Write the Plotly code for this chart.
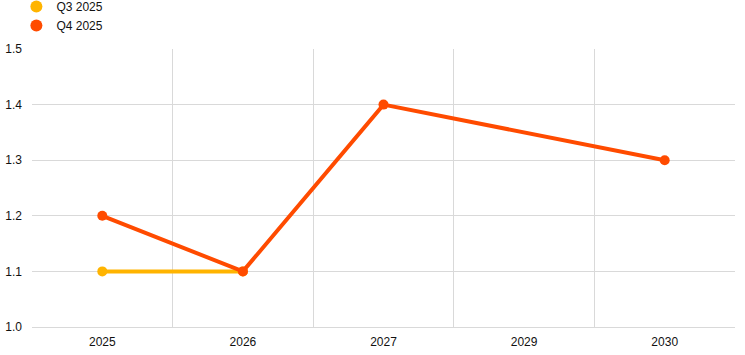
import plotly.graph_objects as go

years = ["2025", "2026", "2027", "2029", "2030"]
q3_2025 = [1.1, 1.1, None, None, None]
q4_2025 = [1.2, 1.1, 1.4, None, 1.3]
y_ticks = [1.0, 1.1, 1.2, 1.3, 1.4, 1.5]

c_q3 = "#FFB400"
c_q4 = "#FF4B00"

fig = go.Figure()
fig.add_trace(go.Scatter(x=years, y=q3_2025, mode="lines+markers", name="Q3 2025",
                         line=dict(color=c_q3, width=4), marker=dict(size=10, color=c_q3),
                         connectgaps=True, showlegend=False))
fig.add_trace(go.Scatter(x=years, y=q4_2025, mode="lines+markers", name="Q4 2025",
                         line=dict(color=c_q4, width=4), marker=dict(size=10, color=c_q4),
                         connectgaps=True, showlegend=False))
fig.add_trace(go.Scatter(x=[None], y=[None], mode="markers", name="Q3 2025",
                         marker=dict(size=11, color=c_q3)))
fig.add_trace(go.Scatter(x=[None], y=[None], mode="markers", name="Q4 2025",
                         marker=dict(size=11, color=c_q4)))

fig.update_layout(
    width=745, height=355,
    margin=dict(l=32, r=10, t=49, b=28, autoexpand=False),
    paper_bgcolor="white", plot_bgcolor="white",
    font=dict(family="Liberation Sans, Arial, sans-serif", size=12, color="#111111"),
    showlegend=True,
    legend=dict(xref="container", yref="paper", x=0.022, y=1.205,
                xanchor="left", yanchor="top", orientation="v",
                font=dict(size=12), bgcolor="rgba(0,0,0,0)", tracegroupgap=0,
                itemsizing="constant"),
    xaxis=dict(type="category", categoryorder="array", categoryarray=years,
               tickson="boundaries", showgrid=True, gridcolor="#d9d9d9", gridwidth=1,
               ticks="", showline=True, linecolor="#d9d9d9", zeroline=False,
               range=[-0.5, 4.5], fixedrange=True, automargin=False,
               ticklabelstandoff=4),
    yaxis=dict(range=[1.0, 1.5], tickvals=y_ticks, tickformat=".1f",
               showgrid=True, gridcolor="#d9d9d9", gridwidth=1, zeroline=False,
               ticks="", showline=False, fixedrange=True, automargin=False,
               ticklabelstandoff=9),
)

fig.write_html("out.html")
